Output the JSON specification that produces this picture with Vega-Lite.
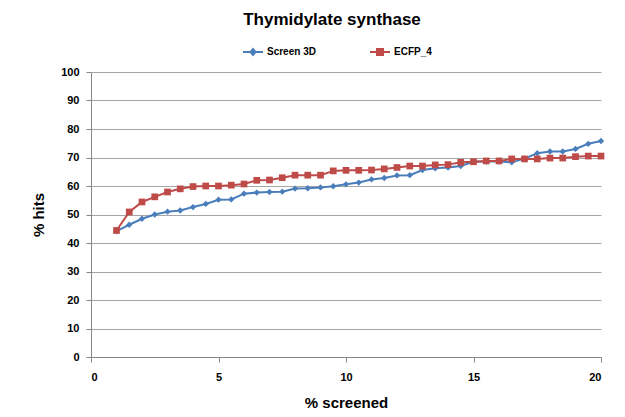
{
  "$schema": "https://vega.github.io/schema/vega-lite/v6.json",
  "autosize": "none",
  "width": 510,
  "height": 285,
  "padding": {"left": 91, "top": 72, "right": 24, "bottom": 60},
  "background": "white",
  "title": {
    "text": "Thymidylate synthase",
    "font": "Liberation Sans",
    "fontSize": 17,
    "fontWeight": "bold",
    "color": "#000000",
    "anchor": "middle",
    "dx": -14,
    "offset": 12
  },
  "data": {
    "values": [
      {"x": 1, "y": 44.2, "s": "Screen 3D"},
      {"x": 1.5, "y": 46.4, "s": "Screen 3D"},
      {"x": 2, "y": 48.5, "s": "Screen 3D"},
      {"x": 2.5, "y": 50, "s": "Screen 3D"},
      {"x": 3, "y": 51, "s": "Screen 3D"},
      {"x": 3.5, "y": 51.4, "s": "Screen 3D"},
      {"x": 4, "y": 52.6, "s": "Screen 3D"},
      {"x": 4.5, "y": 53.7, "s": "Screen 3D"},
      {"x": 5, "y": 55.2, "s": "Screen 3D"},
      {"x": 5.5, "y": 55.3, "s": "Screen 3D"},
      {"x": 6, "y": 57.3, "s": "Screen 3D"},
      {"x": 6.5, "y": 57.7, "s": "Screen 3D"},
      {"x": 7, "y": 57.9, "s": "Screen 3D"},
      {"x": 7.5, "y": 58, "s": "Screen 3D"},
      {"x": 8, "y": 59.1, "s": "Screen 3D"},
      {"x": 8.5, "y": 59.2, "s": "Screen 3D"},
      {"x": 9, "y": 59.5, "s": "Screen 3D"},
      {"x": 9.5, "y": 59.9, "s": "Screen 3D"},
      {"x": 10, "y": 60.6, "s": "Screen 3D"},
      {"x": 10.5, "y": 61.2, "s": "Screen 3D"},
      {"x": 11, "y": 62.3, "s": "Screen 3D"},
      {"x": 11.5, "y": 62.8, "s": "Screen 3D"},
      {"x": 12, "y": 63.7, "s": "Screen 3D"},
      {"x": 12.5, "y": 63.8, "s": "Screen 3D"},
      {"x": 13, "y": 65.6, "s": "Screen 3D"},
      {"x": 13.5, "y": 66.2, "s": "Screen 3D"},
      {"x": 14, "y": 66.5, "s": "Screen 3D"},
      {"x": 14.5, "y": 67, "s": "Screen 3D"},
      {"x": 15, "y": 68.5, "s": "Screen 3D"},
      {"x": 15.5, "y": 68.6, "s": "Screen 3D"},
      {"x": 16, "y": 68.6, "s": "Screen 3D"},
      {"x": 16.5, "y": 68.3, "s": "Screen 3D"},
      {"x": 17, "y": 69.6, "s": "Screen 3D"},
      {"x": 17.5, "y": 71.5, "s": "Screen 3D"},
      {"x": 18, "y": 72.1, "s": "Screen 3D"},
      {"x": 18.5, "y": 72.1, "s": "Screen 3D"},
      {"x": 19, "y": 73, "s": "Screen 3D"},
      {"x": 19.5, "y": 74.8, "s": "Screen 3D"},
      {"x": 20, "y": 75.8, "s": "Screen 3D"},
      {"x": 1, "y": 44.4, "s": "ECFP_4"},
      {"x": 1.5, "y": 50.9, "s": "ECFP_4"},
      {"x": 2, "y": 54.4, "s": "ECFP_4"},
      {"x": 2.5, "y": 56.2, "s": "ECFP_4"},
      {"x": 3, "y": 57.9, "s": "ECFP_4"},
      {"x": 3.5, "y": 59, "s": "ECFP_4"},
      {"x": 4, "y": 59.8, "s": "ECFP_4"},
      {"x": 4.5, "y": 60, "s": "ECFP_4"},
      {"x": 5, "y": 60, "s": "ECFP_4"},
      {"x": 5.5, "y": 60.3, "s": "ECFP_4"},
      {"x": 6, "y": 60.7, "s": "ECFP_4"},
      {"x": 6.5, "y": 62, "s": "ECFP_4"},
      {"x": 7, "y": 62.1, "s": "ECFP_4"},
      {"x": 7.5, "y": 62.9, "s": "ECFP_4"},
      {"x": 8, "y": 63.8, "s": "ECFP_4"},
      {"x": 8.5, "y": 63.8, "s": "ECFP_4"},
      {"x": 9, "y": 63.8, "s": "ECFP_4"},
      {"x": 9.5, "y": 65.3, "s": "ECFP_4"},
      {"x": 10, "y": 65.5, "s": "ECFP_4"},
      {"x": 10.5, "y": 65.5, "s": "ECFP_4"},
      {"x": 11, "y": 65.6, "s": "ECFP_4"},
      {"x": 11.5, "y": 66, "s": "ECFP_4"},
      {"x": 12, "y": 66.5, "s": "ECFP_4"},
      {"x": 12.5, "y": 67, "s": "ECFP_4"},
      {"x": 13, "y": 67, "s": "ECFP_4"},
      {"x": 13.5, "y": 67.4, "s": "ECFP_4"},
      {"x": 14, "y": 67.5, "s": "ECFP_4"},
      {"x": 14.5, "y": 68.3, "s": "ECFP_4"},
      {"x": 15, "y": 68.5, "s": "ECFP_4"},
      {"x": 15.5, "y": 68.8, "s": "ECFP_4"},
      {"x": 16, "y": 68.8, "s": "ECFP_4"},
      {"x": 16.5, "y": 69.5, "s": "ECFP_4"},
      {"x": 17, "y": 69.5, "s": "ECFP_4"},
      {"x": 17.5, "y": 69.5, "s": "ECFP_4"},
      {"x": 18, "y": 69.8, "s": "ECFP_4"},
      {"x": 18.5, "y": 69.8, "s": "ECFP_4"},
      {"x": 19, "y": 70.3, "s": "ECFP_4"},
      {"x": 19.5, "y": 70.5, "s": "ECFP_4"},
      {"x": 20, "y": 70.5, "s": "ECFP_4"}
    ]
  },
  "encoding": {
    "x": {
      "field": "x",
      "type": "quantitative",
      "scale": {"domain": [0, 20], "nice": false},
      "axis": {
        "values": [0, 5, 10, 15, 20],
        "title": "% screened",
        "grid": false,
        "titleFontSize": 15,
        "labelPadding": 9,
        "titlePadding": 13
      }
    },
    "y": {
      "field": "y",
      "type": "quantitative",
      "scale": {"domain": [0, 100], "nice": false},
      "axis": {
        "values": [0, 10, 20, 30, 40, 50, 60, 70, 80, 90, 100],
        "title": "% hits",
        "grid": true,
        "titleFontSize": 15,
        "labelPadding": 7,
        "titlePadding": 14
      }
    },
    "color": {
      "field": "s",
      "type": "nominal",
      "sort": ["Screen 3D", "ECFP_4"],
      "scale": {"domain": ["Screen 3D", "ECFP_4"], "range": ["#4A7EBB", "#BE4B48"]},
      "legend": {
        "title": null,
        "orient": "none",
        "direction": "horizontal",
        "legendX": 151,
        "legendY": -31,
        "labelFont": "Liberation Sans",
        "labelFontSize": 10,
        "labelFontWeight": "bold",
        "labelColor": "#000000",
        "labelOffset": 3,
        "columnPadding": 50,
        "symbolSize": 400,
        "symbolStrokeWidth": 2,
        "encode": {
          "symbols": {
            "update": {
              "shape": {"signal": "datum.value === 'Screen 3D' ? 'M-1,0H1M0,-0.3L0.25,0L0,0.3L-0.25,0Z' : 'M-1,0H1M-0.3,-0.3H0.3V0.3H-0.3Z'"},
              "fill": {"signal": "datum.value === 'Screen 3D' ? '#4A7EBB' : '#BE4B48'"},
              "stroke": {"signal": "datum.value === 'Screen 3D' ? '#4A7EBB' : '#BE4B48'"},
              "opacity": {"value": 1}
            }
          }
        }
      }
    }
  },
  "layer": [
    {
      "mark": {"type": "line", "strokeWidth": 2}
    },
    {
      "transform": [{"filter": "datum.s === 'Screen 3D'"}],
      "mark": {"type": "point", "filled": true, "opacity": 1, "shape": "diamond", "size": 40}
    },
    {
      "transform": [{"filter": "datum.s === 'ECFP_4'"}],
      "mark": {"type": "point", "filled": true, "opacity": 1, "shape": "square", "size": 45}
    }
  ],
  "config": {
    "view": {"stroke": null},
    "axis": {
      "labelFont": "Liberation Sans",
      "labelFontSize": 11,
      "labelFontWeight": "bold",
      "labelColor": "#000000",
      "titleFont": "Liberation Sans",
      "titleFontWeight": "bold",
      "titleColor": "#000000",
      "domainColor": "#868686",
      "tickColor": "#868686",
      "gridColor": "#A6A6A6",
      "gridWidth": 1,
      "tickSize": 5
    }
  }
}
